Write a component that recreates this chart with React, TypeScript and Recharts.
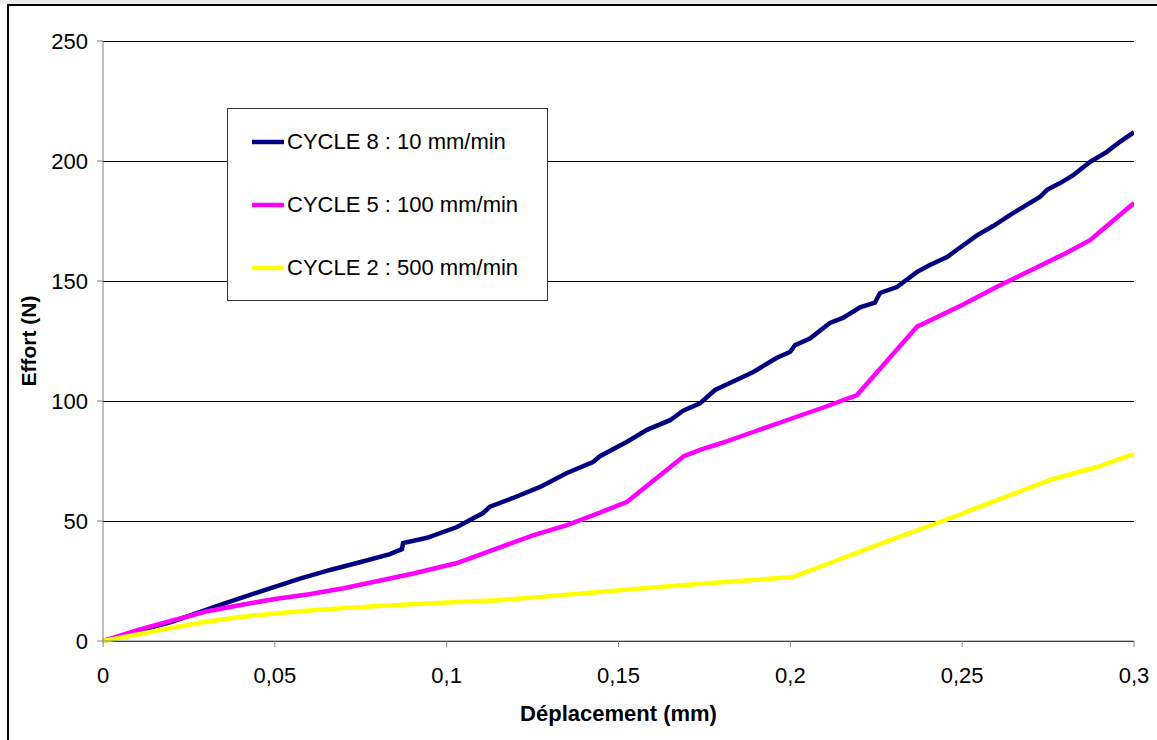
import { CartesianGrid, Label, Legend, Line, LineChart, XAxis, YAxis } from "recharts";

// Déplacement (mm) / Effort (N), one pair of arrays per cycle
const cycle8Disp = [0, 0.01, 0.02, 0.03, 0.035, 0.0428, 0.0573, 0.0661, 0.0739, 0.0835, 0.087, 0.0873, 0.0943, 0.103, 0.1106, 0.1126, 0.1193, 0.1272, 0.135, 0.1426, 0.1446, 0.1525, 0.1583, 0.165, 0.1688, 0.1737, 0.1781, 0.1824, 0.1891, 0.1961, 0.1999, 0.2014, 0.2057, 0.2115, 0.2153, 0.2203, 0.2246, 0.2261, 0.231, 0.2369, 0.2406, 0.2456, 0.2485, 0.2543, 0.259, 0.2648, 0.2726, 0.2747, 0.2785, 0.2822, 0.2872, 0.2921, 0.2959, 0.3];
const cycle8Effort = [0, 4, 8, 13, 15.5, 19.2, 26, 29.6, 32.5, 36.2, 38.3, 40.8, 43, 47.5, 53.3, 56, 59.6, 64.2, 70, 74.6, 77, 83, 88, 92, 96, 99, 104.6, 107.5, 112, 118, 120.4, 123.3, 126, 132.5, 134.6, 139, 141, 145, 147.5, 153.8, 156.7, 160, 163, 169, 172.9, 178.3, 185, 188, 190.8, 194, 199.6, 203.8, 208, 212];

const cycle5Disp = [0, 0.01, 0.02, 0.03, 0.04, 0.05, 0.06, 0.07, 0.08, 0.09, 0.103, 0.1155, 0.1251, 0.135, 0.1446, 0.1525, 0.169, 0.1737, 0.18, 0.19, 0.2, 0.21, 0.2194, 0.2369, 0.25, 0.26, 0.27, 0.28, 0.2872, 0.3];
const cycle5Effort = [0, 4.5, 8.5, 12.3, 15, 17.5, 19.5, 22, 25, 28, 32.5, 39, 44, 48.3, 53.5, 58, 77, 79.6, 82.5, 87.5, 92.5, 97.5, 102.5, 131, 140, 147.5, 154.5, 161.5, 167, 182.5];

const cycle2Disp = [0, 0.01, 0.02, 0.03, 0.04, 0.05, 0.06, 0.07, 0.08, 0.09, 0.1, 0.115, 0.13, 0.145, 0.16, 0.175, 0.19, 0.2008, 0.2115, 0.229, 0.2444, 0.2601, 0.2764, 0.2892, 0.3];
const cycle2Effort = [0, 2.7, 5.5, 8, 10, 11.5, 12.7, 13.7, 14.6, 15.3, 16, 17, 18.7, 20.5, 22.3, 24, 25.5, 26.7, 32.5, 42, 50, 58.7, 67.5, 72.5, 78];

const seriesNames = ["CYCLE 8 : 10 mm/min", "CYCLE 5 : 100 mm/min", "CYCLE 2 : 500 mm/min"];
const seriesColors = ["#000080", "#FF00FF", "#FFFF00"];

const xTicks = [0, 0.05, 0.1, 0.15, 0.2, 0.25, 0.3];
const yTicks = [0, 50, 100, 150, 200, 250];

const toPoints = (disp: number[], effort: number[]) =>
  disp.map((d, i) => ({ disp: d, effort: effort[i] }));

const seriesData = [
  toPoints(cycle8Disp, cycle8Effort),
  toPoints(cycle5Disp, cycle5Effort),
  toPoints(cycle2Disp, cycle2Effort),
];

const FONT = '"Liberation Sans", Arial, sans-serif';
const LINE_W = 4.5;

// the legend keeps the series order (cycle 8 on top), so it reads from our own arrays
const renderLegend = () => (
  <div
    style={{
      position: "relative",
      width: 321,
      height: 193,
      boxSizing: "border-box",
      border: "1px solid #333",
      background: "#fff",
    }}
  >
    {seriesNames.map((name, i) => (
      <div key={name} style={{ position: "absolute", left: 0, top: 22 + i * 63, height: 22, width: 319 }}>
        <svg width={32} height={6} style={{ position: "absolute", left: 24, top: 8 }}>
          <line x1={0} y1={3} x2={32} y2={3} stroke={seriesColors[i]} strokeWidth={LINE_W} />
        </svg>
        <span
          style={{
            position: "absolute",
            left: 59,
            top: 0,
            fontFamily: FONT,
            fontSize: 22,
            lineHeight: "22px",
            color: "#000",
            whiteSpace: "nowrap",
          }}
        >
          {name}
        </span>
      </div>
    ))}
  </div>
);

const renderYTitle = () => (
  <text
    x={28}
    y={341}
    transform="rotate(-90 28 341)"
    textAnchor="middle"
    dominantBaseline="central"
    fontFamily={FONT}
    fontSize={21}
    fontWeight="bold"
    fill="#000"
  >
    Effort (N)
  </text>
);

export default function App() {
  return (
    <div
      style={{
        position: "absolute",
        left: 0,
        top: 0,
        width: 1157,
        height: 740,
        background: "#fff",
        overflow: "hidden",
        fontFamily: FONT,
      }}
    >
      <div style={{ position: "absolute", left: 0, top: 0, width: 1157, height: 4, background: "#ececec" }} />
      <div
        style={{
          position: "absolute",
          left: 7,
          top: 4,
          width: 1200,
          height: 800,
          borderLeft: "2px solid #000",
          borderTop: "2px solid #000",
          boxSizing: "border-box",
        }}
      />
      <div style={{ position: "absolute", left: 0, top: 0 }}>
        <LineChart width={1157} height={740} margin={{ top: 41, right: 23, left: 0, bottom: 0 }}>
          <CartesianGrid vertical={false} stroke="#000" strokeWidth={1} shapeRendering="crispEdges" />
          <XAxis
            type="number"
            dataKey="disp"
            domain={[0, 0.3]}
            ticks={xTicks}
            allowDataOverflow
            height={99}
            stroke="#808080"
            tickSize={6}
            tickMargin={20}
            tick={{ fill: "#000", fontSize: 22, fontFamily: FONT }}
            tickFormatter={(v: number) => String(v).replace(".", ",")}
          >
            <Label
              value="Déplacement (mm)"
              position="insideBottom"
              offset={19}
              style={{ fontFamily: FONT, fontSize: 22, fontWeight: "bold", fill: "#000" }}
            />
          </XAxis>
          <YAxis
            type="number"
            domain={[0, 250]}
            ticks={yTicks}
            width={103}
            stroke="#808080"
            tickSize={6}
            tickMargin={9}
            tick={{ fill: "#000", fontSize: 22, fontFamily: FONT }}
          >
            <Label content={renderYTitle} />
          </YAxis>
          <Legend
            layout="vertical"
            align="center"
            verticalAlign="middle"
            content={renderLegend}
            wrapperStyle={{ left: 227, top: 108, width: 321, height: 193 }}
          />
          {seriesData.map((data, i) => (
            <Line
              key={seriesNames[i]}
              data={data}
              dataKey="effort"
              name={seriesNames[i]}
              stroke={seriesColors[i]}
              strokeWidth={LINE_W}
              dot={false}
              type="linear"
              isAnimationActive={false}
            />
          ))}
        </LineChart>
      </div>
    </div>
  );
}
